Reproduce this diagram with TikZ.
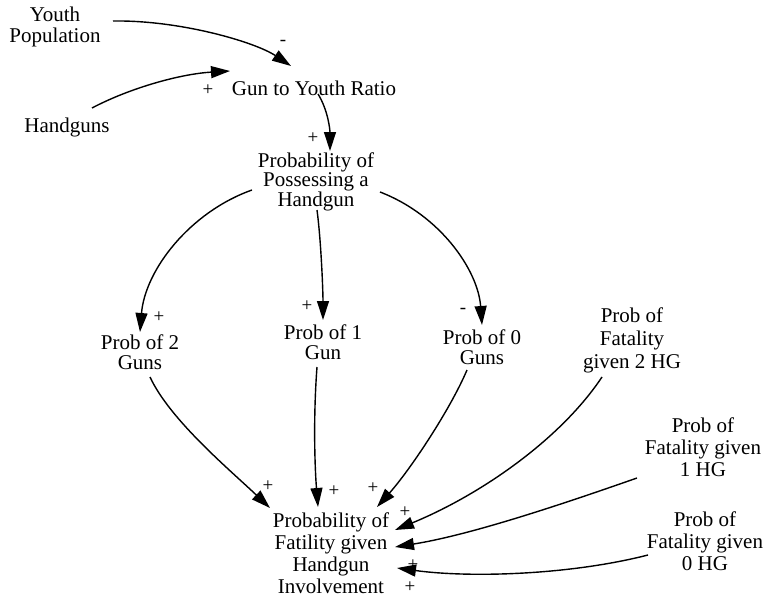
\documentclass[tikz,border=0pt]{standalone}
\usepackage{fontspec}
\setmainfont{Liberation Serif}
\usetikzlibrary{arrows.meta}
\begin{document}
\begin{tikzpicture}[x=1pt,y=-1pt,
  var/.style={align=center,inner sep=0pt,font=\fontsize{21}{22}\selectfont},
  pol/.style={inner sep=0pt,font=\fontsize{19}{19}\selectfont},
  arr/.style={line width=1.4pt,-{Triangle[length=19pt,width=12pt]}}]
\useasboundingbox (0,0) rectangle (764,597);
% variables
\node[var,font=\fontsize{21}{21}\selectfont] (youth) at (55,27) {Youth\\Population};
\node[var] (ratio) at (314,88) {Gun to Youth Ratio};
\node[var] (hand) at (67,127) {Handguns};
\node[var,font=\fontsize{21}{15}\selectfont] (poss) at (316,182) {Probability of\\Possessing a\\Handgun};
\node[var,font=\fontsize{21}{20}\selectfont] (p2) at (140,352) {Prob of 2\\Guns};
\node[var,font=\fontsize{21}{20}\selectfont] (p1) at (323,342) {Prob of 1\\Gun};
\node[var,font=\fontsize{21}{20}\selectfont] (p0) at (482,347) {Prob of 0\\Guns};
\node[var,font=\fontsize{21}{23}\selectfont] (f2) at (632,340) {Prob of\\Fatality\\given 2 HG};
\node[var] (f1) at (703,447) {Prob of\\Fatality given\\1 HG};
\node[var] (f0) at (705,541) {Prob of\\Fatality given\\0 HG};
\node[var] (fat) at (331,553) {Probability of\\Fatility given\\Handgun\\Involvement};
% connectors
\draw[arr] ([shift={(58,-6)}]youth.center) .. controls (180,20) and (255,42) .. ([shift={(-23,-22)}]ratio.center);
\draw[arr] ([shift={(25,-19)}]hand.center) .. controls (130,88) and (180,74) .. ([shift={(-84,-17)}]ratio.center);
\draw[arr] ([shift={(4,6)}]ratio.center) .. controls (328,110) and (330,130) .. ([shift={(14,-31)}]poss.center);
\draw[arr] ([shift={(-64,8)}]poss.center) .. controls (190,212) and (145,270) .. ([shift={(0,-20)}]p2.center);
\draw[arr] ([shift={(1,28)}]poss.center) .. controls (321,240) and (323,290) .. ([shift={(0,-22)}]p1.center);
\draw[arr] ([shift={(64,10)}]poss.center) .. controls (440,215) and (478,270) .. ([shift={(0,-22)}]p0.center);
\draw[arr] ([shift={(10,25)}]p2.center) .. controls (170,420) and (230,470) .. ([shift={(-61,-45)}]fat.center);
\draw[arr] ([shift={(-6,25)}]p1.center) .. controls (313,420) and (315,470) .. ([shift={(-13,-46)}]fat.center);
\draw[arr] ([shift={(-15,23)}]p0.center) .. controls (450,410) and (410,470) .. ([shift={(46,-46)}]fat.center);
\draw[arr] ([shift={(-30,37)}]f2.center) .. controls (560,440) and (480,495) .. ([shift={(64,-23)}]fat.center);
\draw[arr] ([shift={(-66,31)}]f1.center) .. controls (560,505) and (470,535) .. ([shift={(64,-6)}]fat.center);
\draw[arr] ([shift={(-57,14)}]f0.center) .. controls (570,575) and (470,578) .. ([shift={(66,15)}]fat.center);
% polarities
\node[pol] (s1) at (283,43) {-};
\node[pol] (s2) at (208,90) {+};
\node[pol] (s3) at (313,138) {+};
\node[pol] (s4) at (159,317) {+};
\node[pol] (s5) at (307,306) {+};
\node[pol] (s6) at (463,311) {-};
\node[pol] (s7) at (268,486) {+};
\node[pol] (s8) at (334,491) {+};
\node[pol] (s9) at (373,488) {+};
\node[pol] (s10) at (405,512) {+};
\node[pol] (s11) at (413,565) {+};
\node[pol] (s12) at (410,587) {+};
\end{tikzpicture}
\end{document}
